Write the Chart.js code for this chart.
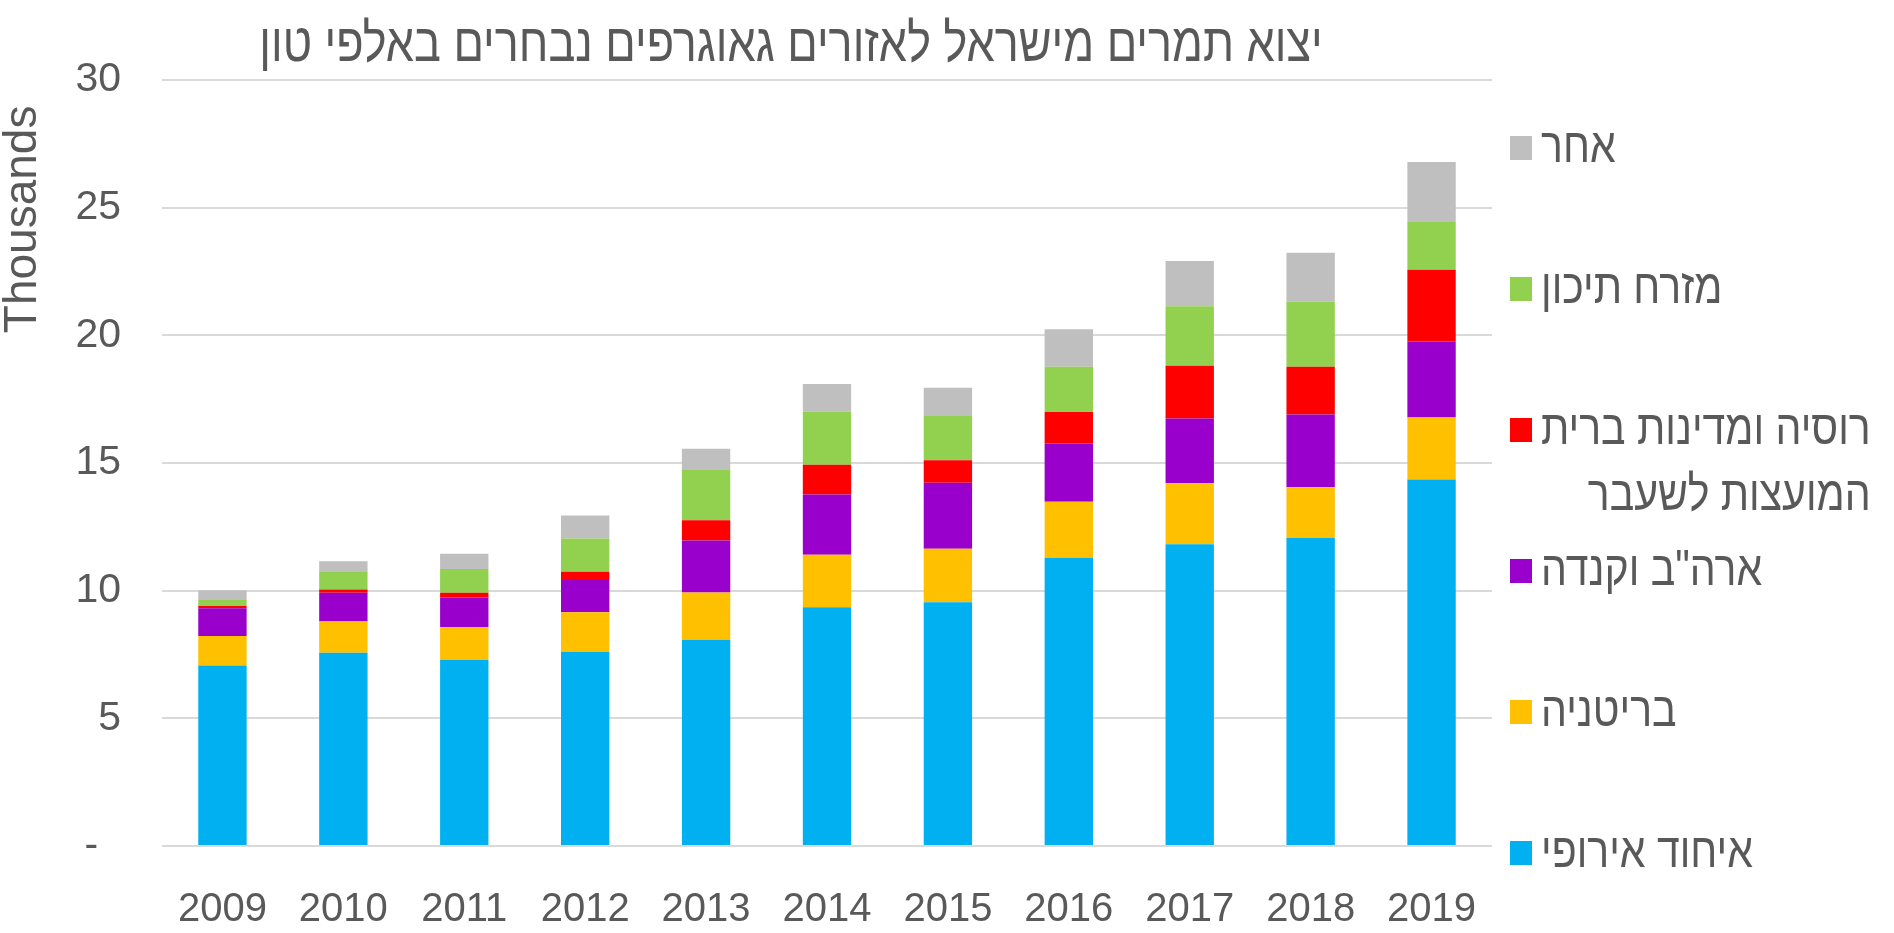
<!DOCTYPE html>
<html lang="he">
<head>
<meta charset="utf-8">
<script src="https://cdn.jsdelivr.net/npm/chart.js@4/dist/chart.umd.min.js"></script>
<style>
  html, body { margin: 0; padding: 0; background: #fff; }
  #wrap { width: 1894px; height: 933px; position: relative; }
</style>
</head>
<body>
<div id="wrap"><canvas id="dates"></canvas></div>
<script>
// years on the x axis
const years = ["2009","2010","2011","2012","2013","2014","2015","2016","2017","2018","2019"];

// export by region, thousands of tons
const eu         = [7.07, 7.57, 7.29, 7.61, 8.08, 9.35, 9.55, 11.29, 11.82, 12.06, 14.35];
const uk         = [1.15, 1.22, 1.29, 1.54, 1.85, 2.06, 2.09, 2.19, 2.39, 1.99, 2.43];
const usCanada   = [1.09, 1.13, 1.15, 1.27, 2.03, 2.36, 2.59, 2.28, 2.53, 2.85, 2.98];
const russia     = [0.09, 0.13, 0.19, 0.32, 0.80, 1.16, 0.88, 1.24, 2.07, 1.87, 2.81];
const middleEast = [0.26, 0.71, 0.93, 1.30, 2.00, 2.09, 1.73, 1.77, 2.33, 2.55, 1.87];
const other      = [0.36, 0.39, 0.60, 0.90, 0.80, 1.07, 1.11, 1.47, 1.77, 1.91, 2.35];

// series names (bottom to top) and y ticks
const names = ["איחוד אירופי", "בריטניה", "ארה\"ב וקנדה", "רוסיה ומדינות ברית המועצות לשעבר", "מזרח תיכון", "אחר"];
const colors = ["#00B0F0", "#FFC000", "#9900CC", "#FF0000", "#92D050", "#BFBFBF"];
const yTicks = [0, 5, 10, 15, 20, 25, 30];

const TITLE = "יצוא תמרים מישראל לאזורים גאוגרפים נבחרים באלפי טון";
const FONT = "'Liberation Sans', Arial, sans-serif";
const GREY = "#595959";
const STRETCH = 1.2; // original text is a bit taller than wide

// title drawn left of centre, like the original
const titlePlugin = {
  id: "sideTitle",
  afterDraw(chart){
    const ctx = chart.ctx;
    ctx.save();
    ctx.translate(791, 61);
    ctx.scale(1, STRETCH);
    ctx.font = `45px ${FONT}`;
    ctx.fillStyle = GREY;
    ctx.textAlign = "center";
    ctx.textBaseline = "alphabetic";
    ctx.fillText(TITLE, 0, 0);
    ctx.restore();
  }
};

// legend on the right, top item = last series
const legendPlugin = {
  id: "rightLegend",
  afterDraw(chart){
    const ctx = chart.ctx;
    const x0 = 1510, top = 148, step = 141, maxW = 345;
    ctx.save();
    ctx.font = `41px ${FONT}`;
    ctx.textBaseline = "middle";
    const sets = chart.data.datasets.slice().reverse();
    sets.forEach((ds, i) => {
      const y = top + i * step;
      ctx.fillStyle = ds.backgroundColor;
      ctx.fillRect(x0, y - 12, 22, 24);

      // wrap long labels
      const words = ds.label.split(" ");
      const lines = [];
      let cur = "";
      words.forEach(w => {
        const t = cur ? cur + " " + w : w;
        if(cur && ctx.measureText(t).width > maxW){ lines.push(cur); cur = w; }
        else cur = t;
      });
      lines.push(cur);

      const widest = Math.max(...lines.map(l => ctx.measureText(l).width));
      ctx.fillStyle = GREY;
      ctx.textAlign = "right";
      lines.forEach((l, j) => {
        ctx.save();
        ctx.translate(x0 + 31 + widest, y + j * 66);
        ctx.scale(1, STRETCH);
        ctx.fillText(l, 0, 0);
        ctx.restore();
      });
    });
    ctx.restore();
  }
};

const series = [eu, uk, usCanada, russia, middleEast, other];

new Chart(document.getElementById("dates"), {
  type: "bar",
  data: {
    labels: years,
    datasets: series.map((d, i) => ({
      label: names[i],
      data: d,
      backgroundColor: colors[i],
      borderWidth: 0,
      barPercentage: 0.4,
      categoryPercentage: 1.0
    }))
  },
  options: {
    responsive: true,
    maintainAspectRatio: false,
    animation: false,
    layout: { padding: { top: 80, right: 402, left: 0, bottom: 0 } },
    plugins: {
      legend: { display: false },
      title: { display: false },
      tooltip: { enabled: false }
    },
    scales: {
      x: {
        stacked: true,
        afterFit: s => { s.height = 87; },
        grid: { display: false, drawTicks: false },
        border: { display: false },
        ticks: { color: GREY, font: { family: FONT, size: 40 }, padding: 40, maxRotation: 0 }
      },
      y: {
        stacked: true,
        min: 0,
        max: 30,
        afterFit: s => { s.width = 162; },
        afterBuildTicks: s => { s.ticks = yTicks.map(v => ({ value: v })); },
        grid: { color: "#D9D9D9", lineWidth: 2, drawTicks: false },
        border: { display: false },
        ticks: {
          color: GREY,
          font: { family: FONT, size: 41 },
          padding: 41,
          callback: v => v === 0 ? "-  " : v
        },
        title: {
          display: true,
          text: "Thousands  ",
          align: "end",
          color: GREY,
          padding: 0,
          font: { family: FONT, size: 46, lineHeight: 1.0 }
        }
      }
    }
  },
  plugins: [titlePlugin, legendPlugin]
});
</script>
</body>
</html>
